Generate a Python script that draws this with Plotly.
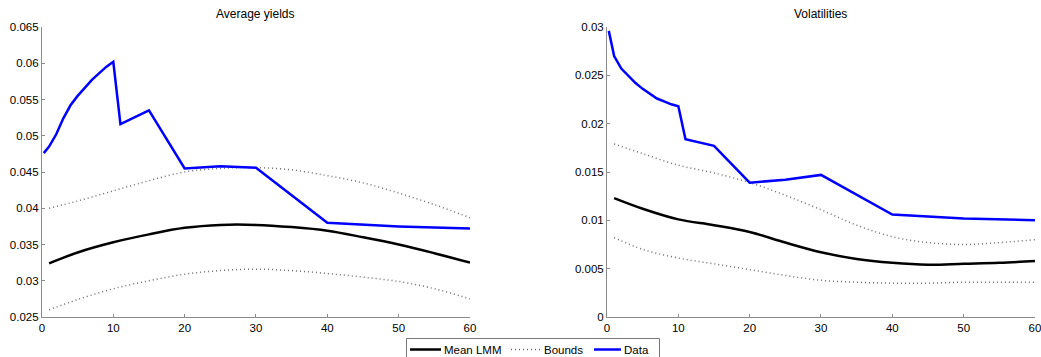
import plotly.graph_objects as go
from plotly.subplots import make_subplots

# Maturities (years) of the observed curves
data_maturities = [0.25, 1, 2, 3, 4, 5, 6, 7, 8, 9, 10, 11, 15, 20, 25, 30, 40, 50, 60]
yields_data = [0.0476, 0.0485, 0.0502, 0.0524, 0.0542, 0.0555, 0.0566, 0.0577, 0.0586, 0.0595,
               0.0602, 0.0516, 0.0535, 0.0455, 0.0458, 0.0456, 0.0380, 0.0375, 0.0372]
vols_data = [0.0296, 0.0270, 0.0257, 0.0249, 0.0242, 0.0236, 0.0231, 0.0226, 0.0223, 0.0220,
             0.0218, 0.0184, 0.0177, 0.0139, 0.0142, 0.0147, 0.0106, 0.0102, 0.0100]

# Model grid and LMM simulation results
model_maturities = [1, 5, 10, 15, 20, 25, 30, 35, 40, 45, 50, 55, 60]
yields_mean = [0.0324, 0.0339, 0.0353, 0.0364, 0.0373, 0.0377, 0.0377, 0.0374, 0.0369, 0.0360, 0.0350, 0.0338, 0.0325]
yields_upper = [0.0400, 0.0410, 0.0424, 0.0438, 0.0450, 0.0455, 0.0456, 0.0453, 0.0445, 0.0435, 0.0421, 0.0405, 0.0387]
yields_lower = [0.0260, 0.0274, 0.0289, 0.0300, 0.0309, 0.0314, 0.0316, 0.0314, 0.0310, 0.0305, 0.0299, 0.0289, 0.0275]
vols_mean = [0.0123, 0.0112, 0.0101, 0.0095, 0.0088, 0.0077, 0.0067, 0.0060, 0.0056, 0.0054, 0.0055, 0.0056, 0.0058]
vols_upper = [0.0179, 0.0169, 0.0157, 0.0149, 0.0139, 0.0126, 0.0111, 0.0095, 0.0083, 0.0077, 0.0075, 0.0077, 0.0080]
vols_lower = [0.0082, 0.0070, 0.0061, 0.0055, 0.0049, 0.0043, 0.0038, 0.0036, 0.0035, 0.0035, 0.0036, 0.0036, 0.0036]

panel_titles = ["Average yields", "Volatilities"]
legend_labels = ["Mean LMM", "Bounds", "Data"]

FONT = "Liberation Sans, Arial, Helvetica, sans-serif"
AXIS_GREY = "#8c8c8c"
MEAN_STYLE = dict(color="black", width=2.5, shape="spline")
BOUND_STYLE = dict(color="#6e6e6e", width=1.5, dash="1px,3px", shape="spline")
DATA_STYLE = dict(color="#0000ff", width=2.5)

W, H = 1041, 357
TOP, BOTTOM = 27, 317          # plot area rows in pixels


def px_x(px):
    return px / W


def px_y(py):
    return (BOTTOM - py) / (BOTTOM - TOP)


fig = make_subplots(rows=1, cols=2, horizontal_spacing=0.13)

panels = [
    (yields_mean, yields_upper, yields_lower, yields_data),
    (vols_mean, vols_upper, vols_lower, vols_data),
]

for i, (mean, upper, lower, obs) in enumerate(panels):
    col = i + 1
    fig.add_trace(go.Scatter(x=model_maturities, y=mean, mode="lines", name=legend_labels[0],
                             line=MEAN_STYLE), row=1, col=col)
    fig.add_trace(go.Scatter(x=model_maturities, y=upper, mode="lines", name=legend_labels[1],
                             line=BOUND_STYLE), row=1, col=col)
    fig.add_trace(go.Scatter(x=model_maturities, y=lower, mode="lines", name=legend_labels[1],
                             line=BOUND_STYLE), row=1, col=col)
    fig.add_trace(go.Scatter(x=data_maturities, y=obs, mode="lines", name=legend_labels[2],
                             line=DATA_STYLE), row=1, col=col)

axis_common = dict(showgrid=False, zeroline=False, showline=True, linecolor=AXIS_GREY,
                   linewidth=1, ticks="inside", ticklen=3, tickcolor=AXIS_GREY,
                   ticklabeloverflow="allow",
                   tickfont=dict(family=FONT, size=11.5, color="black"), mirror=False)

fig.update_xaxes(axis_common, range=[0, 60], dtick=10)
fig.update_layout(
    xaxis=dict(domain=[0.0403, 0.4515]),
    xaxis2=dict(domain=[0.5831, 0.9942]),
    yaxis=dict(axis_common, range=[0.025, 0.065], dtick=0.005),
    yaxis2=dict(axis_common, range=[0, 0.03], dtick=0.005),
)

for title, (x0, x1) in zip(panel_titles, [(0.0403, 0.4515), (0.5831, 0.9942)]):
    fig.add_annotation(text=title, x=(x0 + x1) / 2, y=px_y(14), xref="paper", yref="paper",
                       xanchor="center", yanchor="middle", showarrow=False,
                       font=dict(family=FONT, size=12, color="black"))

# Shared legend box below the two panels
fig.add_shape(type="rect", xref="paper", yref="paper",
              x0=px_x(406.5), x1=px_x(659.5), y0=px_y(338.5), y1=px_y(359),
              line=dict(color="#777777", width=1), fillcolor="white", layer="above")
legend_row = px_y(349.5)
legend_items = [
    (410, 441, 443, dict(color="black", width=2.5)),
    (511, 541, 543, dict(color="#6e6e6e", width=1.5, dash="1px,3px")),
    (594, 621, 623, dict(color="#0000ff", width=2.5)),
]
for label, (l0, l1, tx, style) in zip(legend_labels, legend_items):
    fig.add_shape(type="line", xref="paper", yref="paper", x0=px_x(l0), x1=px_x(l1),
                  y0=legend_row, y1=legend_row, line=style, layer="above")
    fig.add_annotation(text=label, x=px_x(tx), y=legend_row, xref="paper", yref="paper",
                       xanchor="left", yanchor="middle", showarrow=False, borderpad=0,
                       font=dict(family=FONT, size=11.5, color="black"))

fig.update_layout(
    width=W, height=H,
    margin=dict(l=0, r=0, t=TOP, b=H - BOTTOM, autoexpand=False),
    paper_bgcolor="white", plot_bgcolor="white",
    font=dict(family=FONT, size=12, color="black"),
    showlegend=False,
)

fig.write_html("out.html")
